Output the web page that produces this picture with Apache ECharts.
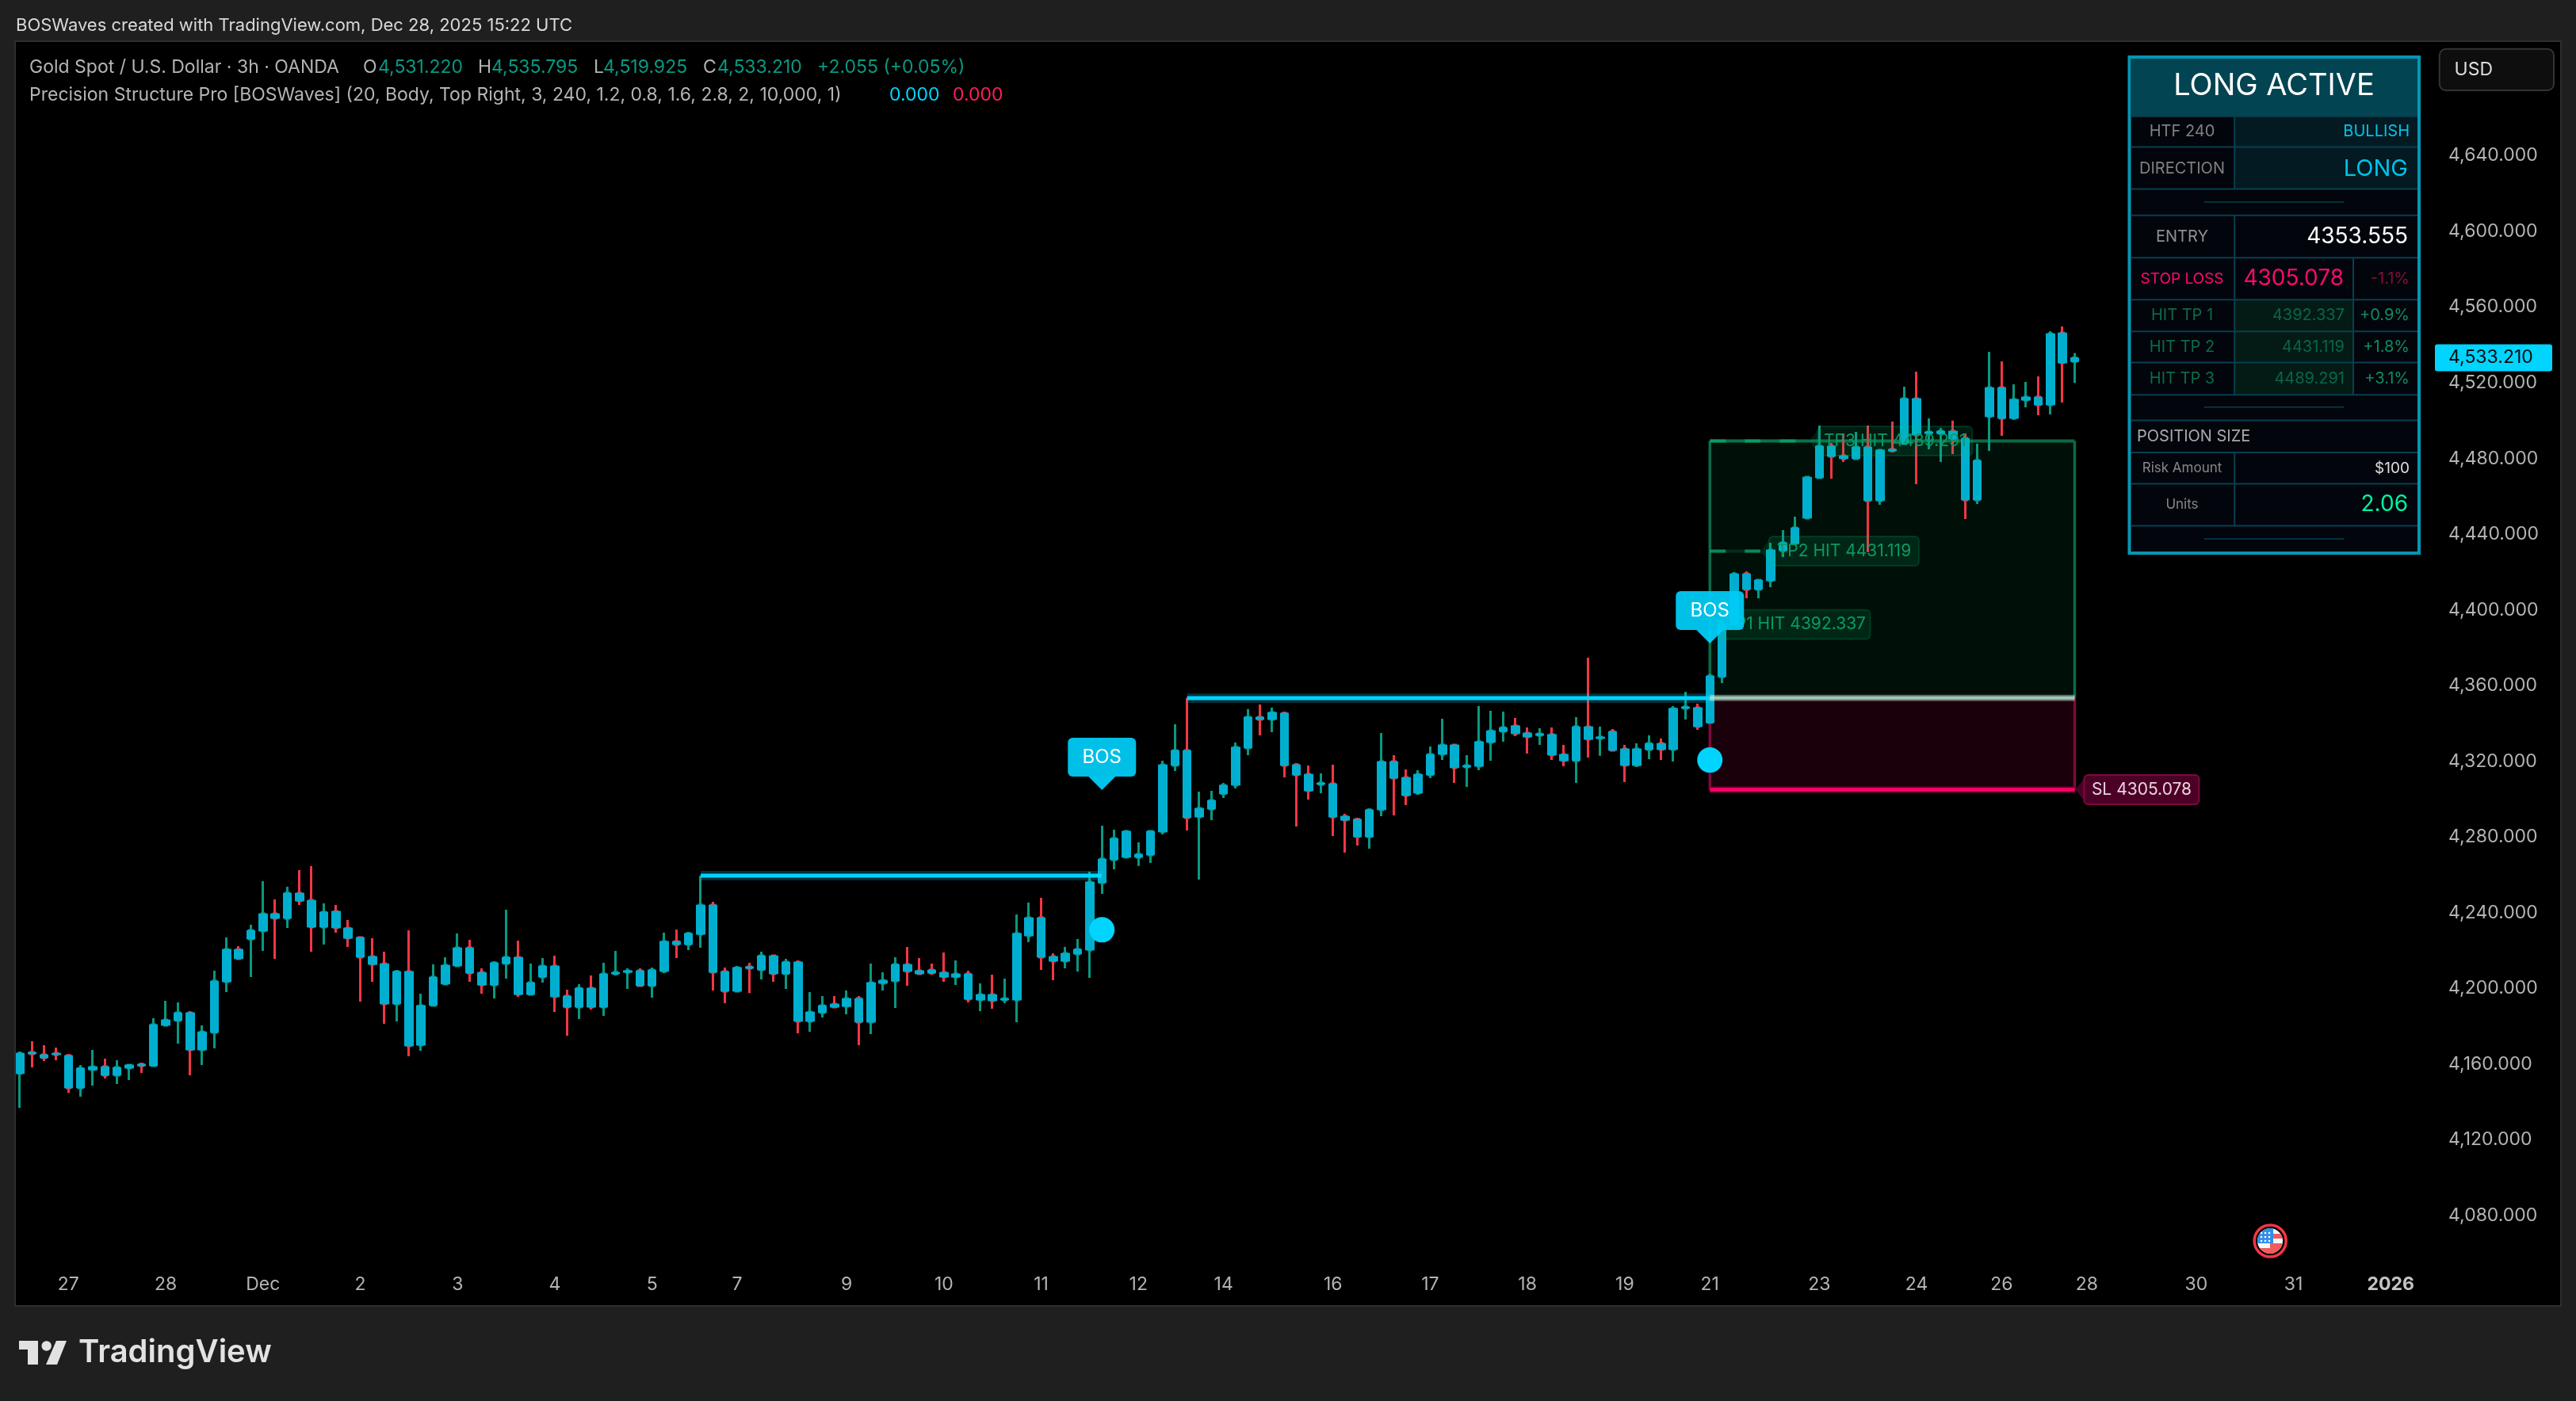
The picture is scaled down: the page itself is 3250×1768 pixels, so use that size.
<!DOCTYPE html>
<html>
<head>
<meta charset="utf-8">
<title>XAUUSD 3h</title>
<script src="https://cdn.jsdelivr.net/npm/echarts@6/dist/echarts.min.js"></script>
<style>
html, body { margin: 0; padding: 0; background: #1f1f1f; overflow: hidden; }
#main { width: 3250px; height: 1768px; }
</style>
</head>
<body>
<div id="main"></div>
<script>
var opens = [
    4155.0,4166.3,4165.0,4165.8,4164.6,4147.4,4157.0,4158.7,4154.1,4157.9,
    4160.0,4159.1,4180.5,4183.0,4187.2,4167.5,4176.7,4203.5,4220.7,4226.1,
    4230.3,4239.5,4237.0,4250.4,4246.6,4232.4,4240.8,4232.0,4227.0,4216.9,
    4213.1,4191.8,4209.0,4170.0,4191.0,4202.3,4211.9,4221.5,4208.5,4201.8,
    4213.1,4216.5,4196.8,4206.0,4211.9,4196.0,4190.1,4200.2,4190.1,4207.7,
    4208.5,4209.4,4201.4,4209.0,4224.9,4223.2,4228.6,4244.1,4209.0,4198.5,
    4211.5,4209.8,4217.3,4207.7,4214.0,4182.6,4187.2,4191.8,4190.5,4194.7,
    4182.2,4202.7,4203.9,4212.7,4209.4,4209.8,4208.5,4206.0,4207.7,4193.9,
    4196.8,4193.9,4193.9,4227.8,4237.4,4216.9,4214.4,4218.2,4220.3,4255.8,
    4268.0,4269.3,4269.3,4270.5,4282.7,4317.8,4325.8,4290.6,4294.8,4302.8,
    4307.4,4327.0,4343.4,4342.1,4345.5,4318.2,4313.2,4307.8,4308.2,4291.0,
    4289.4,4280.1,4294.4,4319.9,4311.5,4303.2,4312.8,4323.7,4328.7,4317.0,
    4317.4,4330.0,4335.8,4338.8,4335.0,4333.7,4334.2,4323.7,4320.3,4338.3,
    4332.1,4335.8,4326.6,4317.8,4326.2,4329.5,4326.2,4348.0,4348.4,4340.4,
    4364.7,4392.4,4419.1,4410.8,4415.4,4431.3,4435.0,4448.5,4469.8,4486.6,
    4481.5,4479.9,4486.1,4457.7,4484.9,4487.8,4511.7,4493.2,4493.2,4494.5,
    4490.7,4458.1,4502.1,4517.5,4501.2,4510.8,4512.5,4508.3,4546.4,4531.22
];
var closes = [
    4165.8,4165.4,4163.3,4165.0,4147.4,4157.9,4158.7,4154.1,4158.3,4159.6,
    4159.1,4180.9,4183.4,4187.2,4167.5,4177.1,4203.9,4220.7,4215.7,4230.7,
    4239.5,4237.0,4250.4,4246.2,4232.4,4240.4,4232.0,4226.5,4216.5,4212.7,
    4191.8,4209.0,4169.6,4191.0,4206.0,4212.3,4221.5,4208.1,4201.8,4213.6,
    4216.5,4196.8,4203.1,4211.9,4195.6,4190.1,4200.2,4190.1,4207.7,4208.5,
    4209.4,4201.4,4209.8,4224.9,4223.2,4229.1,4244.1,4208.5,4198.5,4211.1,
    4210.6,4217.3,4207.7,4214.0,4182.6,4187.6,4191.0,4190.1,4194.7,4182.2,
    4203.1,4204.3,4212.7,4209.0,4207.7,4208.1,4206.0,4207.7,4194.3,4196.8,
    4193.5,4194.7,4229.1,4237.4,4216.5,4214.4,4218.6,4220.7,4256.3,4268.4,
    4279.3,4283.1,4270.9,4283.1,4318.2,4325.8,4290.2,4295.2,4299.4,4307.4,
    4327.5,4343.4,4342.1,4345.9,4317.8,4312.8,4304.4,4308.6,4290.6,4288.9,
    4280.1,4294.4,4319.9,4311.1,4301.9,4313.2,4323.7,4328.7,4316.6,4317.8,
    4330.4,4336.2,4337.9,4334.6,4332.9,4334.6,4323.3,4320.3,4338.3,4331.6,
    4332.9,4325.8,4317.8,4326.6,4329.5,4326.2,4348.0,4348.8,4338.3,4365.1,
    4392.8,4419.1,4410.8,4415.8,4431.7,4435.5,4443.4,4470.2,4486.6,4481.1,
    4479.9,4486.1,4457.7,4484.5,4484.0,4511.7,4492.4,4494.1,4494.5,4490.3,
    4458.1,4479.0,4517.5,4501.2,4511.3,4512.5,4508.3,4546.0,4530.5,4533.21
];
var lows = [
    4136.9,4158.3,4161.6,4162.1,4144.9,4142.8,4148.7,4152.4,4149.5,4151.6,
    4155.4,4159.1,4180.5,4170.9,4154.1,4159.6,4168.3,4198.1,4215.2,4206.0,
    4219.8,4215.7,4232.0,4244.1,4219.4,4223.2,4229.5,4221.9,4193.1,4203.5,
    4181.3,4182.6,4164.2,4167.1,4191.0,4202.3,4211.9,4203.5,4197.2,4194.7,
    4205.2,4195.6,4196.8,4203.1,4187.6,4175.0,4183.8,4188.9,4185.5,4206.9,
    4199.7,4201.4,4195.1,4208.1,4216.1,4220.3,4221.5,4198.9,4192.2,4198.5,
    4197.6,4204.8,4203.5,4199.7,4176.3,4177.1,4184.7,4190.1,4186.3,4170.0,
    4175.9,4198.9,4189.7,4201.4,4207.3,4207.3,4203.5,4201.8,4192.6,4188.0,
    4189.3,4192.2,4182.2,4224.5,4209.8,4204.3,4210.6,4209.0,4205.6,4250.0,
    4263.0,4269.3,4264.7,4266.3,4281.4,4314.9,4283.5,4257.5,4288.9,4300.7,
    4305.7,4323.3,4333.7,4335.4,4311.5,4285.6,4299.8,4303.2,4280.6,4271.8,
    4275.5,4273.9,4291.0,4291.4,4296.9,4302.3,4311.1,4320.8,4308.6,4306.5,
    4315.3,4320.3,4330.4,4333.3,4324.1,4328.7,4320.8,4317.4,4308.6,4322.0,
    4322.9,4325.8,4309.0,4317.0,4321.2,4320.8,4319.9,4342.1,4336.7,4340.0,
    4361.4,4391.5,4406.2,4406.2,4412.0,4427.9,4435.0,4448.5,4469.4,4469.4,
    4478.2,4479.4,4430.5,4455.6,4483.2,4487.4,4466.5,4484.9,4478.2,4482.4,
    4448.0,4456.0,4484.0,4492.0,4500.4,4507.1,4502.9,4503.3,4509.6,4519.925
];
var highs = [
    4166.7,4172.1,4170.0,4168.8,4165.4,4159.6,4167.5,4162.9,4162.1,4160.0,
    4160.8,4184.3,4193.5,4192.6,4188.0,4180.5,4209.4,4227.0,4222.4,4233.7,
    4256.7,4247.1,4253.8,4262.5,4264.6,4245.0,4244.1,4236.2,4227.4,4226.5,
    4219.4,4209.8,4230.7,4197.2,4212.7,4216.5,4229.1,4225.7,4210.6,4214.4,
    4241.6,4225.3,4213.1,4216.1,4217.3,4199.3,4202.3,4206.9,4213.6,4219.8,
    4210.6,4210.6,4211.1,4229.5,4231.1,4229.9,4259.6,4245.8,4211.1,4211.9,
    4213.6,4219.4,4217.8,4215.7,4214.8,4198.1,4196.0,4196.0,4198.9,4196.0,
    4213.1,4208.5,4216.5,4221.9,4216.1,4213.1,4219.0,4214.8,4209.4,4202.7,
    4207.3,4205.2,4239.1,4245.4,4247.9,4218.6,4221.9,4226.1,4261.7,4286.0,
    4283.9,4283.1,4277.2,4283.5,4320.3,4339.6,4353.4,4304.0,4304.4,4308.6,
    4330.0,4347.6,4350.1,4348.4,4346.3,4319.1,4317.8,4313.6,4318.2,4292.3,
    4290.2,4295.2,4335.0,4323.3,4315.7,4315.3,4327.9,4342.5,4328.7,4323.3,
    4349.2,4346.7,4346.3,4342.9,4337.9,4337.5,4337.9,4328.7,4343.4,4374.8,
    4338.3,4337.1,4328.7,4329.5,4333.7,4332.1,4349.2,4356.8,4350.5,4366.4,
    4395.0,4420.0,4420.4,4415.8,4435.5,4442.2,4449.3,4470.6,4497.4,4488.2,
    4493.2,4494.1,4497.4,4484.9,4499.5,4518.0,4525.9,4501.2,4496.2,4500.0,
    4493.2,4487.8,4536.4,4531.4,4519.2,4520.5,4523.4,4547.3,4549.8,4535.795
];

// time scale: bar number of every label, 199 slots up to the price scale
var barCount = 199;
var tickBars = [4,12,20,28,36,44,52,59,68,76,84,92,99,108,116,124,132,139,148,156,163,170,179,187,195];
var tickLabels = ['27','28','Dec','2','3','4','5','7','9','10','11','12','14','16','17','18','19','21','23','24','26','28','30','31','2026'];

var breakLines = [[56, 89, 4259.6], [96, 139, 4353.4]];
var bosDots = [[89, 4231.0], [139, 4320.7]];
var bosTips = [[89, 4304.8], [139, 4382.3]];

var zoneStart = 139, zoneEnd = 169;
var entryPrice = 4353.555, stopPrice = 4305.078;
var tpPrices = [4392.337, 4431.119, 4489.291];
var tpBars = [140, 144, 148];
var tpTexts = ['TP1 HIT 4392.337', 'TP2 HIT 4431.119', 'TP3 HIT 4489.291'];

var FONT = 'Inter, "Noto Sans", sans-serif';
var BODY = '#00afcf', CYAN = '#00d4ff';
var UP = '#089981', DOWN = '#f23645';
var LEFT_GAP = 17.33, PANE_RIGHT = 3070;

var categories = [];
for (var i = 0; i < barCount; i++) {
    var t = tickBars.indexOf(i);
    categories.push(t >= 0 ? tickLabels[t] : '');
}

var wickData = [], bodyData = [];
for (var j = 0; j < opens.length; j++) {
    wickData.push([opens[j], closes[j], lows[j], highs[j]]);
    bodyData.push([opens[j], closes[j], Math.min(opens[j], closes[j]), Math.max(opens[j], closes[j])]);
}

function font(size, weight) {
    return (weight ? weight + ' ' : '') + size + 'px ' + FONT;
}
function txt(x, y, text, fill, size, align, weight) {
    return {
        type: 'text', x: x, y: y, z: 60, silent: true,
        style: { text: text, fill: fill, font: font(size, weight), textAlign: align || 'left', textVerticalAlign: 'middle' }
    };
}
function box(x, y, w, h, fill, stroke, lw, r) {
    return {
        type: 'rect', z: 50, silent: true,
        shape: { x: x, y: y, width: w, height: h, r: r || 0 },
        style: { fill: fill, stroke: stroke || null, lineWidth: lw || 0 }
    };
}

// ---- zones, lines and labels of the indicator, placed through the axes
function lineEl(x1, y1, x2, y2, color, w, dash) {
    return {
        type: 'line', shape: { x1: x1, y1: y1, x2: x2, y2: y2 },
        style: { stroke: color, lineWidth: w, lineDash: dash || null }
    };
}

function renderZones(params, api) {
    var l = api.coord([zoneStart, entryPrice])[0], r = api.coord([zoneEnd, entryPrice])[0];
    var yE = api.coord([zoneStart, entryPrice])[1];
    var yS = api.coord([zoneStart, stopPrice])[1];
    var yT = api.coord([zoneStart, tpPrices[2]])[1];
    var kids = [
        { type: 'rect', shape: { x: l, y: yT, width: r - l, height: yE - yT }, style: { fill: 'rgba(0,230,118,0.065)' } },
        { type: 'rect', shape: { x: l, y: yE, width: r - l, height: yS - yE }, style: { fill: 'rgba(255,0,102,0.1)' } },
        lineEl(l, yT, l, yE, '#0a6b47', 3.5),
        lineEl(r, yT, r, yE, '#0a6b47', 3.5),
        lineEl(l, yT, r, yT, '#0a6b47', 4),
        lineEl(l, yE, l, yS, '#7a0a3c', 3.5),
        lineEl(r, yE, r, yS, '#7a0a3c', 3.5)
    ];
    return { type: 'group', children: kids };
}

function renderBreak(params, api) {
    var a = api.coord([api.value(0), api.value(2)]);
    var b = api.coord([api.value(1), api.value(2)]);
    return {
        type: 'group',
        children: [
            lineEl(a[0], a[1], b[0], b[1], 'rgba(0,212,255,0.22)', 12),
            lineEl(a[0], a[1], b[0], b[1], CYAN, 5)
        ]
    };
}

function renderLevels(params, api) {
    var l = api.coord([zoneStart, entryPrice])[0], r = api.coord([zoneEnd, entryPrice])[0];
    var yE = api.coord([zoneStart, entryPrice])[1];
    var yS = api.coord([zoneStart, stopPrice])[1];
    var kids = [
        lineEl(l, yE, r, yE, 'rgba(255,255,255,0.38)', 8),
        lineEl(l, yE, r, yE, 'rgba(170,235,210,0.75)', 4),
        lineEl(l, yS, r, yS, '#6b0030', 8),
        lineEl(l, yS, r, yS, '#ff0066', 4.5)
    ];
    for (var i = 0; i < tpPrices.length; i++) {
        var c = api.coord([tpBars[i], tpPrices[i]]);
        var tip = c[0] - 13, y = c[1], bl = tip + 11, w = i === 2 ? 195 : 189;
        kids.push(lineEl(l, y, tip, y, 'rgba(10,140,90,0.25)', 4));
        kids.push(lineEl(l, y, tip, y, 'rgba(10,170,110,0.75)', 4, [20, 24]));
        kids.push({
            type: 'polygon',
            shape: { points: [[tip, y], [bl, y - 14], [bl, y + 14]] },
            style: { fill: 'rgba(0,200,120,0.13)' }
        });
        kids.push({
            type: 'rect',
            shape: { x: bl, y: y - 18.5, width: w, height: 37, r: 5 },
            style: { fill: 'rgba(0,200,120,0.13)', stroke: 'rgba(0,200,120,0.18)', lineWidth: 2 }
        });
        kids.push({
            type: 'text',
            style: { text: tpTexts[i], x: bl + w / 2, y: y, fill: '#0a9a66', font: font(21), textAlign: 'center', textVerticalAlign: 'middle' }
        });
    }
    var sx = r + 12, sy = yS;
    kids.push({
        type: 'polygon',
        shape: { points: [[r + 1, sy], [sx, sy - 14], [sx, sy + 14]] },
        style: { fill: '#4d0026' }
    });
    kids.push({
        type: 'rect',
        shape: { x: sx, y: sy - 18.5, width: 145, height: 37, r: 5 },
        style: { fill: '#4d0026', stroke: '#7a0a3c', lineWidth: 2 }
    });
    kids.push({
        type: 'text',
        style: { text: 'SL ' + stopPrice.toFixed(3), x: sx + 72.5, y: sy, fill: '#e8d3de', font: font(21), textAlign: 'center', textVerticalAlign: 'middle' }
    });
    return { type: 'group', children: kids };
}

function renderDot(params, api) {
    var c = api.coord([api.value(0), api.value(1)]);
    return { type: 'circle', shape: { cx: c[0], cy: c[1], r: 16 }, style: { fill: CYAN } };
}

function renderBos(params, api) {
    var c = api.coord([api.value(0), api.value(1)]);
    var x = c[0], y = c[1];
    return {
        type: 'group',
        children: [
            { type: 'polygon', shape: { points: [[x - 17, y - 17], [x + 17, y - 17], [x, y]] }, style: { fill: 'rgba(0,212,255,0.92)' } },
            { type: 'rect', shape: { x: x - 43, y: y - 66, width: 86, height: 49, r: 6 }, style: { fill: 'rgba(0,204,245,0.94)' } },
            { type: 'text', style: { text: 'BOS', x: x, y: y - 41, fill: '#ffffff', font: font(24), textAlign: 'center', textVerticalAlign: 'middle' } }
        ]
    };
}

function renderTag(params, api) {
    var y = api.coord([0, api.value(1)])[1];
    return {
        type: 'group',
        children: [
            { type: 'rect', shape: { x: 3072, y: y - 17, width: 148, height: 34, r: 3 }, style: { fill: CYAN } },
            { type: 'text', style: { text: priceText(api.value(1)), x: 3089, y: y, fill: '#0b0b0b', font: font(23), textAlign: 'left', textVerticalAlign: 'middle' } }
        ]
    };
}

function priceText(v) {
    return v.toLocaleString('en-US', { minimumFractionDigits: 3, maximumFractionDigits: 3 });
}

// ---- page furniture
var panelRows = [146.8, 185.5, 238.6, 271.8, 325.3, 378.3, 418.3, 457.4, 498.2, 530.6, 571, 610.6, 663.6];
var LINE = '#07404f';
var panel = [
    box(2686.5, 72, 365.5, 626, '#03050c', '#0596b4', 4),
    box(2688.5, 74, 361.5, 73, '#024452'),
    box(2820, 147, 230, 91, '#031a22'),
    box(2820, 378.3, 149, 120, '#041a15')
];
panelRows.forEach(function (y) {
    panel.push({ type: 'line', z: 51, silent: true, shape: { x1: 2688.5, y1: y, x2: 3050, y2: y }, style: { stroke: LINE, lineWidth: 2 } });
});
[[147, 238.6], [271.8, 498.2], [571, 663.6]].forEach(function (s) {
    panel.push({ type: 'line', z: 51, silent: true, shape: { x1: 2819.2, y1: s[0], x2: 2819.2, y2: s[1] }, style: { stroke: LINE, lineWidth: 2 } });
});
panel.push({ type: 'line', z: 51, silent: true, shape: { x1: 2969, y1: 325.3, x2: 2969, y2: 498.2 }, style: { stroke: LINE, lineWidth: 2 } });
[255, 513.8, 680].forEach(function (y) {
    panel.push({ type: 'line', z: 51, silent: true, shape: { x1: 2781, y1: y, x2: 2957, y2: y }, style: { stroke: LINE, lineWidth: 1.5 } });
});

var tpGreen = '#0b6b47', tpValue = '#0a6647', tpPct = '#0f8d5f';
var panelText = [
    txt(2869, 109, 'LONG ACTIVE', '#ffffff', 38, 'center'),
    txt(2753, 166, 'HTF 240', '#808080', 20, 'center'),
    txt(3040, 166, 'BULLISH', '#00c4ea', 20, 'right'),
    txt(2753, 213, 'DIRECTION', '#808080', 20, 'center'),
    txt(3038, 213, 'LONG', '#00c4ea', 29, 'right'),
    txt(2753, 299, 'ENTRY', '#909090', 20, 'center'),
    txt(3038, 299, '4353.555', '#ffffff', 28, 'right'),
    txt(2753, 352, 'STOP LOSS', '#ff0a6b', 19, 'center'),
    txt(2957, 352, '4305.078', '#ff0a6b', 28, 'right'),
    txt(3040, 352, '-1.1%', '#80103a', 20, 'right'),
    txt(2753, 398, 'HIT TP 1', tpGreen, 20, 'center'),
    txt(2958, 398, '4392.337', tpValue, 20, 'right'),
    txt(3040, 398, '+0.9%', tpPct, 20, 'right'),
    txt(2753, 438, 'HIT TP 2', tpGreen, 20, 'center'),
    txt(2958, 438, '4431.119', tpValue, 20, 'right'),
    txt(3040, 438, '+1.8%', tpPct, 20, 'right'),
    txt(2753, 478, 'HIT TP 3', tpGreen, 20, 'center'),
    txt(2958, 478, '4489.291', tpValue, 20, 'right'),
    txt(3040, 478, '+3.1%', tpPct, 20, 'right'),
    txt(2696, 551, 'POSITION SIZE', '#aaaaaa', 20, 'left'),
    txt(2753, 591, 'Risk Amount', '#888888', 17, 'center'),
    txt(3040, 591, '$100', '#dddddd', 19, 'right'),
    txt(2753, 637, 'Units', '#888888', 17, 'center'),
    txt(3038, 637, '2.06', '#00f5a0', 28, 'right')
];

var GRAY = '#b4b4b4', VAL = '#089981';
var legendText = [
    txt(20, 32, 'BOSWaves created with TradingView.com, Dec 28, 2025 15:22 UTC', '#d8d8d8', 22),
    txt(37, 85, 'Gold Spot / U.S. Dollar · 3h · OANDA', GRAY, 23),
    txt(458, 85, 'O', GRAY, 23), txt(477, 85, '4,531.220', VAL, 23),
    txt(603, 85, 'H', GRAY, 23), txt(620, 85, '4,535.795', VAL, 23),
    txt(749, 85, 'L', GRAY, 23), txt(761, 85, '4,519.925', VAL, 23),
    txt(887, 85, 'C', GRAY, 23), txt(905, 85, '4,533.210', VAL, 23),
    txt(1031, 85, '+2.055 (+0.05%)', VAL, 23),
    txt(37, 120, 'Precision Structure Pro [BOSWaves] (20, Body, Top Right, 3, 240, 1.2, 0.8, 1.6, 2.8, 2, 10,000, 1)', GRAY, 23),
    txt(1122, 120, '0.000', CYAN, 23),
    txt(1202, 120, '0.000', '#ff1f5a', 23),
    txt(99, 1707, 'TradingView', '#e2e2e2', 40, 'left', 600)
];

var flagSvg = 'data:image/svg+xml;utf8,' + encodeURIComponent(
    '<svg xmlns="http://www.w3.org/2000/svg" width="64" height="64" viewBox="0 0 32 32">' +
    '<clipPath id="c"><circle cx="16" cy="16" r="16"/></clipPath><g clip-path="url(#c)">' +
    '<rect width="32" height="32" fill="#f7f7f7"/>' +
    '<rect y="7" x="16" width="16" height="6" fill="#f25c5c"/>' +
    '<rect y="19" width="32" height="6" x="16" fill="#f25c5c"/>' +
    '<rect y="25" width="32" height="7" fill="#f25c5c"/>' +
    '<rect width="20" height="19" fill="#2f8fe8"/>' +
    '<g fill="#fff"><circle cx="5" cy="6" r="1.3"/><circle cx="10" cy="6" r="1.3"/><circle cx="15" cy="6" r="1.3"/>' +
    '<circle cx="5" cy="11" r="1.3"/><circle cx="10" cy="11" r="1.3"/><circle cx="15" cy="11" r="1.3"/>' +
    '<circle cx="5" cy="16" r="1.3"/><circle cx="10" cy="16" r="1.3"/><circle cx="15" cy="16" r="1.3"/></g>' +
    '</g></svg>');

var furniture = [
    { type: 'rect', z: -10, silent: true, shape: { x: 19, y: 52, width: 3212, height: 1596 }, style: { fill: '#000000', stroke: '#2e2e2e', lineWidth: 2 } },
    box(0, 0, 18, 1768, '#1f1f1f'),
    box(18, 52, 2, 1596, '#2e2e2e'),
    box(3077.8, 61.8, 144.2, 52.2, '#0e0e0e', '#333333', 2, 8),
    txt(3096.6, 88, 'USD', '#dddddd', 23),
    { type: 'image', z: 58, silent: true, style: { image: flagSvg, x: 2848, y: 1550, width: 32, height: 32 } },
    { type: 'circle', z: 59, silent: true, shape: { cx: 2864.2, cy: 1566, r: 20 }, style: { fill: 'none', stroke: '#f23645', lineWidth: 3.5 } },
    box(24, 1692, 24, 11, '#e2e2e2'),
    box(35, 1692, 13, 30, '#e2e2e2'),
    { type: 'circle', z: 50, silent: true, shape: { cx: 58.7, cy: 1698.5, r: 6.2 }, style: { fill: '#e2e2e2' } },
    { type: 'polygon', z: 50, silent: true, shape: { points: [[71, 1692], [84, 1692], [72, 1722], [58, 1722]] }, style: { fill: '#e2e2e2' } }
];

var myChart = echarts.init(document.getElementById('main'));

var option = {
    animation: false,
    backgroundColor: '#1f1f1f',
    graphic: { elements: furniture.concat(panel, panelText, legendText) },
    grid: {
        left: LEFT_GAP,
        top: 100.96,
        width: PANE_RIGHT - LEFT_GAP,
        height: 1528.58,
        containLabel: false
    },
    xAxis: {
        type: 'category',
        data: categories,
        boundaryGap: true,
        axisLine: { show: false },
        axisTick: { show: false },
        splitLine: { show: false },
        axisLabel: {
            inside: true,
            margin: 8,
            interval: 0,
            hideOverlap: false,
            color: '#b4b4b4',
            fontFamily: FONT,
            fontSize: 23,
            verticalAlign: 'middle',
            formatter: function (v) { return v === '2026' ? '{b|2026}' : v; },
            rich: { b: { fontFamily: FONT, fontSize: 23, fontWeight: 700, color: '#c4c4c4' } }
        }
    },
    yAxis: {
        type: 'value',
        position: 'right',
        min: 4040,
        max: 4680,
        interval: 40,
        scale: true,
        axisLine: { show: false },
        axisTick: { show: false },
        splitLine: { show: false },
        axisLabel: {
            margin: 19,
            color: '#b4b4b4',
            fontFamily: FONT,
            fontSize: 23,
            showMinLabel: false,
            showMaxLabel: false,
            formatter: function (v) { return priceText(v); }
        }
    },
    series: [
        { type: 'custom', z: 1, clip: false, renderItem: renderZones, data: [[zoneStart, entryPrice]], encode: { x: 0, y: 1 }, silent: true },
        {
            type: 'candlestick', name: 'wicks', z: 2, barWidth: 4, data: wickData, silent: true,
            itemStyle: { color: UP, color0: DOWN, borderColor: UP, borderColor0: DOWN, borderWidth: 3 }
        },
        {
            type: 'candlestick', name: 'bodies', z: 3, barWidth: 11, data: bodyData, silent: true,
            itemStyle: { color: BODY, color0: BODY, borderColor: BODY, borderColor0: BODY, borderWidth: 1 }
        },
        { type: 'custom', z: 4, clip: false, renderItem: renderBreak, data: breakLines, encode: { x: [0, 1], y: 2 }, silent: true },
        { type: 'custom', z: 5, clip: false, renderItem: renderLevels, data: [[zoneStart, entryPrice]], encode: { x: 0, y: 1 }, silent: true },
        { type: 'custom', z: 6, clip: false, renderItem: renderDot, data: bosDots, encode: { x: 0, y: 1 }, silent: true },
        { type: 'custom', z: 7, clip: false, renderItem: renderBos, data: bosTips, encode: { x: 0, y: 1 }, silent: true },
        { type: 'custom', z: 8, clip: false, renderItem: renderTag, data: [[opens.length - 1, closes[closes.length - 1]]], encode: { x: 0, y: 1 }, silent: true }
    ]
};
myChart.setOption(option);
</script>
</body>
</html>
